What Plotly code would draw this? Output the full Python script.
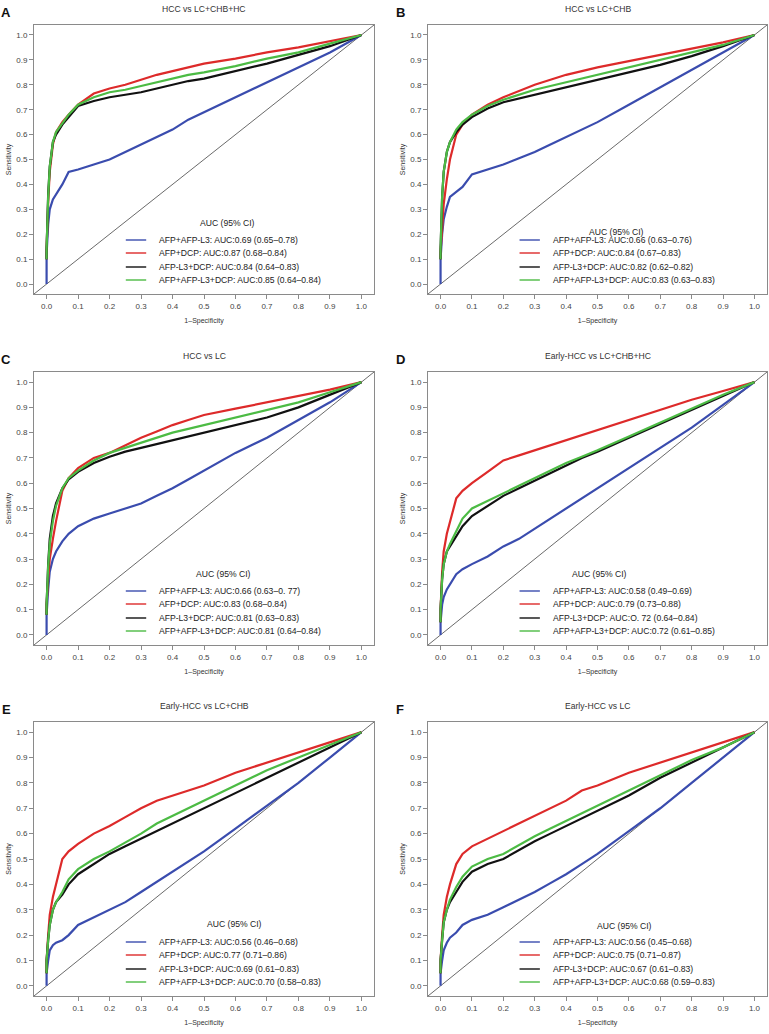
import plotly.graph_objects as go

# ---------------- data ----------------
FPR = [0, 0, 0.005, 0.01, 0.02, 0.03, 0.05, 0.07, 0.1, 0.15, 0.2, 0.25, 0.3, 0.35,
       0.4, 0.45, 0.5, 0.6, 0.7, 0.8, 0.9, 1.0]

A_AFP_L3 = [0, 0.12, 0.24, 0.30, 0.34, 0.36, 0.40, 0.45, 0.46, 0.48, 0.50, 0.53, 0.56, 0.59, 0.62, 0.66, 0.69, 0.75, 0.81, 0.87, 0.93, 1.0]
A_AFP_DCP = [0.10, 0.14, 0.33, 0.45, 0.56, 0.61, 0.65, 0.68, 0.72, 0.765, 0.785, 0.80, 0.82, 0.84, 0.855, 0.87, 0.885, 0.905, 0.93, 0.95, 0.975, 1.0]
A_L3_DCP = [0.10, 0.14, 0.36, 0.47, 0.57, 0.60, 0.64, 0.67, 0.715, 0.735, 0.75, 0.76, 0.77, 0.785, 0.80, 0.815, 0.825, 0.855, 0.885, 0.92, 0.955, 1.0]
A_ALL = [0.10, 0.14, 0.35, 0.47, 0.57, 0.61, 0.645, 0.68, 0.72, 0.75, 0.77, 0.78, 0.795, 0.81, 0.825, 0.84, 0.85, 0.875, 0.905, 0.93, 0.965, 1.0]

B_AFP_L3 = [0, 0.10, 0.20, 0.26, 0.31, 0.35, 0.37, 0.39, 0.44, 0.46, 0.48, 0.505, 0.53, 0.56, 0.59, 0.62, 0.65, 0.72, 0.79, 0.86, 0.93, 1.0]
B_AFP_DCP = [0.10, 0.13, 0.22, 0.32, 0.42, 0.50, 0.60, 0.64, 0.68, 0.72, 0.75, 0.775, 0.80, 0.82, 0.84, 0.855, 0.87, 0.895, 0.92, 0.945, 0.97, 1.0]
B_L3_DCP = [0.10, 0.14, 0.35, 0.45, 0.53, 0.57, 0.61, 0.64, 0.67, 0.705, 0.73, 0.745, 0.76, 0.775, 0.79, 0.805, 0.82, 0.85, 0.88, 0.915, 0.955, 1.0]
B_ALL = [0.10, 0.14, 0.35, 0.45, 0.53, 0.57, 0.62, 0.65, 0.68, 0.715, 0.74, 0.76, 0.78, 0.795, 0.81, 0.825, 0.84, 0.87, 0.90, 0.93, 0.96, 1.0]

C_AFP_L3 = [0, 0.08, 0.18, 0.25, 0.30, 0.33, 0.37, 0.40, 0.43, 0.46, 0.48, 0.50, 0.52, 0.55, 0.58, 0.615, 0.65, 0.72, 0.78, 0.85, 0.92, 1.0]
C_AFP_DCP = [0.08, 0.12, 0.22, 0.30, 0.38, 0.45, 0.57, 0.62, 0.66, 0.70, 0.72, 0.75, 0.78, 0.805, 0.83, 0.85, 0.87, 0.895, 0.92, 0.945, 0.97, 1.0]
C_L3_DCP = [0.08, 0.12, 0.28, 0.38, 0.47, 0.52, 0.58, 0.615, 0.645, 0.68, 0.705, 0.725, 0.74, 0.755, 0.77, 0.785, 0.80, 0.83, 0.86, 0.90, 0.95, 1.0]
C_ALL = [0.08, 0.12, 0.27, 0.36, 0.45, 0.51, 0.58, 0.62, 0.65, 0.69, 0.72, 0.74, 0.76, 0.78, 0.80, 0.815, 0.83, 0.86, 0.89, 0.92, 0.96, 1.0]

D_AFP_L3 = [0, 0.05, 0.12, 0.15, 0.18, 0.20, 0.24, 0.26, 0.28, 0.31, 0.35, 0.38, 0.42, 0.46, 0.50, 0.54, 0.58, 0.66, 0.74, 0.82, 0.91, 1.0]
D_AFP_DCP = [0.05, 0.10, 0.25, 0.33, 0.40, 0.45, 0.54, 0.57, 0.60, 0.645, 0.69, 0.71, 0.73, 0.75, 0.77, 0.79, 0.81, 0.85, 0.89, 0.93, 0.965, 1.0]
D_L3_DCP = [0.05, 0.10, 0.22, 0.28, 0.33, 0.35, 0.39, 0.43, 0.47, 0.51, 0.55, 0.58, 0.61, 0.64, 0.67, 0.70, 0.725, 0.78, 0.835, 0.89, 0.945, 1.0]
D_ALL = [0.05, 0.10, 0.22, 0.28, 0.33, 0.36, 0.41, 0.46, 0.50, 0.53, 0.56, 0.59, 0.62, 0.65, 0.68, 0.705, 0.73, 0.785, 0.84, 0.895, 0.95, 1.0]

E_AFP_L3 = [0, 0.05, 0.10, 0.14, 0.16, 0.17, 0.18, 0.20, 0.24, 0.27, 0.30, 0.33, 0.37, 0.41, 0.45, 0.49, 0.53, 0.62, 0.71, 0.80, 0.90, 1.0]
E_AFP_DCP = [0.05, 0.10, 0.20, 0.28, 0.35, 0.40, 0.50, 0.53, 0.56, 0.60, 0.63, 0.665, 0.70, 0.73, 0.75, 0.77, 0.79, 0.84, 0.88, 0.92, 0.96, 1.0]
E_L3_DCP = [0.05, 0.10, 0.18, 0.24, 0.30, 0.33, 0.36, 0.40, 0.44, 0.48, 0.52, 0.55, 0.58, 0.61, 0.64, 0.67, 0.70, 0.76, 0.82, 0.88, 0.94, 1.0]
E_ALL = [0.05, 0.10, 0.18, 0.24, 0.30, 0.33, 0.37, 0.42, 0.46, 0.50, 0.53, 0.565, 0.60, 0.64, 0.67, 0.70, 0.73, 0.79, 0.85, 0.90, 0.95, 1.0]

F_AFP_L3 = [0, 0.05, 0.10, 0.14, 0.17, 0.19, 0.21, 0.24, 0.26, 0.28, 0.31, 0.34, 0.37, 0.405, 0.44, 0.48, 0.52, 0.61, 0.70, 0.80, 0.90, 1.0]
F_AFP_DCP = [0.05, 0.10, 0.20, 0.28, 0.35, 0.40, 0.48, 0.52, 0.55, 0.58, 0.61, 0.64, 0.67, 0.70, 0.73, 0.77, 0.79, 0.84, 0.88, 0.92, 0.96, 1.0]
F_L3_DCP = [0.05, 0.10, 0.18, 0.25, 0.30, 0.33, 0.37, 0.41, 0.45, 0.48, 0.50, 0.535, 0.57, 0.60, 0.63, 0.66, 0.69, 0.75, 0.82, 0.88, 0.94, 1.0]
F_ALL = [0.05, 0.10, 0.18, 0.25, 0.30, 0.34, 0.39, 0.43, 0.47, 0.50, 0.52, 0.555, 0.59, 0.62, 0.65, 0.68, 0.71, 0.77, 0.83, 0.89, 0.94, 1.0]

PANEL_LETTERS = ["A", "B", "C", "D", "E", "F"]
PANEL_TITLES = ["HCC vs LC+CHB+HC", "HCC vs LC+CHB", "HCC vs LC",
                "Early-HCC vs LC+CHB+HC", "Early-HCC vs LC+CHB", "Early-HCC vs LC"]

A_LABELS = ["AFP+AFP-L3: AUC:0.69 (0.65–0.78)", "AFP+DCP: AUC:0.87 (0.68–0.84)",
            "AFP-L3+DCP: AUC:0.84 (0.64–0.83)", "AFP+AFP-L3+DCP: AUC:0.85 (0.64–0.84)"]
B_LABELS = ["AFP+AFP-L3: AUC:0.66 (0.63–0.76)", "AFP+DCP: AUC:0.84 (0.67–0.83)",
            "AFP-L3+DCP: AUC:0.82 (0.62–0.82)", "AFP+AFP-L3+DCP: AUC:0.83 (0.63–0.83)"]
C_LABELS = ["AFP+AFP-L3: AUC:0.66 (0.63–0. 77)", "AFP+DCP: AUC:0.83 (0.68–0.84)",
            "AFP-L3+DCP: AUC:0.81 (0.63–0.83)", "AFP+AFP-L3+DCP: AUC:0.81 (0.64–0.84)"]
D_LABELS = ["AFP+AFP-L3: AUC:0.58 (0.49–0.69)", "AFP+DCP: AUC:0.79 (0.73–0.88)",
            "AFP-L3+DCP: AUC:O. 72 (0.64–0.84)", "AFP+AFP-L3+DCP: AUC:0.72 (0.61–0.85)"]
E_LABELS = ["AFP+AFP-L3: AUC:0.56 (0.46–0.68)", "AFP+DCP: AUC:0.77 (0.71–0.86)",
            "AFP-L3+DCP: AUC:0.69 (0.61–0.83)", "AFP+AFP-L3+DCP: AUC:0.70 (0.58–0.83)"]
F_LABELS = ["AFP+AFP-L3: AUC:0.56 (0.45–0.68)", "AFP+DCP: AUC:0.75 (0.71–0.87)",
            "AFP-L3+DCP: AUC:0.67 (0.61–0.83)", "AFP+AFP-L3+DCP: AUC:0.68 (0.59–0.83)"]

LEGEND_TITLE = "AUC (95% CI)"
TICKS = [0.0, 0.1, 0.2, 0.3, 0.4, 0.5, 0.6, 0.7, 0.8, 0.9, 1.0]
TICK_TEXT = ["0.0", "0.1", "0.2", "0.3", "0.4", "0.5", "0.6", "0.7", "0.8", "0.9", "1.0"]

# ---------------- styling / layout ----------------
COLORS = ["#3a4cae", "#dd2a2a", "#111111", "#4cbb44"]
W, H = 769, 1034
FONT = "Liberation Sans, Arial, sans-serif"
BOX = "#8a8a8a"

COL_X = [(34, 374), (428, 767)]
ROW_Y = [(25, 294), (372, 645), (722, 996)]

panels = [
    (A_AFP_L3, A_AFP_DCP, A_L3_DCP, A_ALL, A_LABELS),
    (B_AFP_L3, B_AFP_DCP, B_L3_DCP, B_ALL, B_LABELS),
    (C_AFP_L3, C_AFP_DCP, C_L3_DCP, C_ALL, C_LABELS),
    (D_AFP_L3, D_AFP_DCP, D_L3_DCP, D_ALL, D_LABELS),
    (E_AFP_L3, E_AFP_DCP, E_L3_DCP, E_ALL, E_LABELS),
    (F_AFP_L3, F_AFP_DCP, F_L3_DCP, F_ALL, F_LABELS),
]
LEG_TITLE_X = [0.568, 0.556, 0.556, 0.506, 0.59, 0.58]
LEG_TITLE_PX = [71, 62, 71, 71, 72, 70]       # legend title height above box bottom (px)
LEG_ROWS_PX = [54, 41, 27, 14]                # legend rows height above box bottom (px)

fig = go.Figure()
layout = dict(width=W, height=H, margin=dict(l=0, r=0, t=0, b=0),
              paper_bgcolor="white", plot_bgcolor="white", showlegend=False,
              font=dict(family=FONT, color="#333333"))
annotations = []
shapes = []

for i, (s1, s2, s3, s4, labels) in enumerate(panels):
    r, c = divmod(i, 2)
    k = "" if i == 0 else str(i + 1)
    x0, x1 = COL_X[c]
    ytop, ybot = ROW_Y[r]
    hpx = ybot - ytop
    xd = [x0 / W, x1 / W]
    yd = [1 - ybot / H, 1 - ytop / H]
    axis_common = dict(range=[-0.04, 1.04], tickvals=TICKS, ticktext=TICK_TEXT,
                       ticks="outside", ticklen=4, tickcolor=BOX, tickwidth=1,
                       showline=True, linecolor=BOX, linewidth=1, mirror=True,
                       showgrid=False, zeroline=False, automargin=False,
                       tickfont=dict(size=8, color="#444444", family=FONT))
    layout["xaxis" + k] = dict(axis_common, domain=xd, anchor="y" + k,
                               title=dict(text="1–Specificity", standoff=8,
                                          font=dict(size=7, color="#333333")))
    layout["yaxis" + k] = dict(axis_common, domain=yd, anchor="x" + k,
                               title=dict(text="Sensitivity", standoff=3,
                                          font=dict(size=7, color="#333333")))
    # diagonal reference line in axis-domain coordinates
    shapes.append(dict(type="line", xref="x" + k + " domain", yref="y" + k + " domain",
                       x0=0, y0=0, x1=1, y1=1, line=dict(color="#444444", width=0.8),
                       layer="below"))
    for j, (series, col, lab) in enumerate(zip([s1, s2, s3, s4], COLORS, labels)):
        fig.add_trace(go.Scatter(x=FPR, y=series, mode="lines", name=lab,
                                 line=dict(color=col, width=2.2),
                                 xaxis="x" + k, yaxis="y" + k))
        # legend key + text
        ly = LEG_ROWS_PX[j] / hpx
        shapes.append(dict(type="line", xref="x" + k + " domain", yref="y" + k + " domain",
                           x0=0.27, x1=0.33, y0=ly, y1=ly,
                           line=dict(color=col, width=1.4)))
        annotations.append(dict(text=lab, xref="x" + k + " domain", yref="y" + k + " domain",
                                x=0.362, y=ly, xanchor="left", yanchor="middle",
                                showarrow=False, font=dict(size=8.6, color="#222222")))
    annotations.append(dict(text=LEGEND_TITLE, xref="x" + k + " domain", yref="y" + k + " domain",
                            x=LEG_TITLE_X[i], y=LEG_TITLE_PX[i] / hpx, xanchor="center",
                            yanchor="middle", showarrow=False,
                            font=dict(size=8.6, color="#222222")))
    # panel title and letter
    annotations.append(dict(text=PANEL_TITLES[i], xref="paper", yref="paper",
                            x=(x0 + x1) / 2 / W, y=1 - (ytop - 16) / H,
                            xanchor="center", yanchor="middle", showarrow=False,
                            font=dict(size=8.6, color="#333333")))
    annotations.append(dict(text="<b>" + PANEL_LETTERS[i] + "</b>", xref="paper", yref="paper",
                            x=(x0 - 28) / W, y=1 - (ytop - 13) / H,
                            xanchor="center", yanchor="middle", showarrow=False,
                            font=dict(size=13, color="#111111")))

layout["annotations"] = annotations
layout["shapes"] = shapes
fig.update_layout(**layout)
fig.write_html("out.html", config={"displayModeBar": False},
               post_script="document.body.style.margin='0';document.body.style.overflow='hidden';")
